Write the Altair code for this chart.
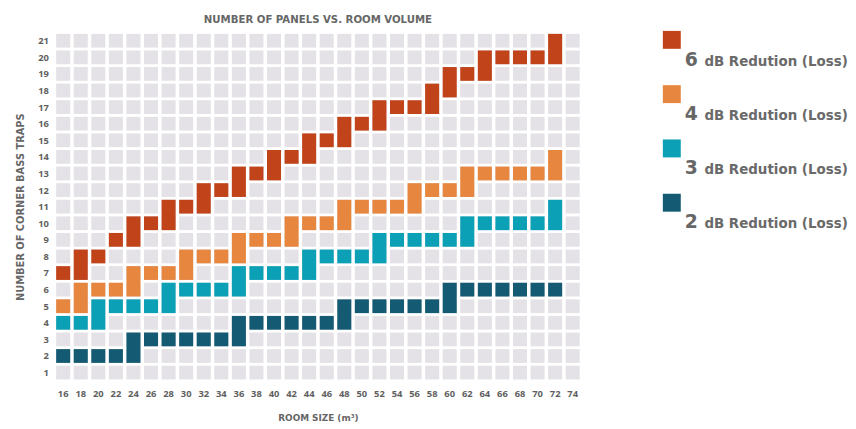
import altair as alt
import pandas as pd

sizes = [16, 18, 20, 22, 24, 26, 28, 30, 32, 34, 36, 38, 40, 42, 44, 46, 48, 50,
         52, 54, 56, 58, 60, 62, 64, 66, 68, 70, 72, 74]
rows = list(range(1, 22))

# low / high row of each coloured cell block (None = no block)
db6_lo = [7, 7, 8, 9, 9, 10, 10, 11, 11, 12, 12, 13, 13, 14, 14, 15, 15, 16, 16, 17, 17, 17, 18, 19, 19, 20, 20, 20, 20, None]
db6_hi = [7, 8, 8, 9, 10, 10, 11, 11, 12, 12, 13, 13, 14, 14, 15, 15, 16, 16, 17, 17, 17, 18, 19, 19, 20, 20, 20, 20, 21, None]
db4_lo = [5, 5, 6, 6, 6, 7, 7, 7, 8, 8, 8, 9, 9, 9, 10, 10, 10, 11, 11, 11, 11, 12, 12, 12, 13, 13, 13, 13, 13, None]
db4_hi = [5, 6, 6, 6, 7, 7, 7, 8, 8, 8, 9, 9, 9, 10, 10, 10, 11, 11, 11, 11, 12, 12, 12, 13, 13, 13, 13, 13, 14, None]
db3_lo = [4, 4, 4, 5, 5, 5, 5, 6, 6, 6, 6, 7, 7, 7, 7, 8, 8, 8, 8, 9, 9, 9, 9, 9, 10, 10, 10, 10, 10, None]
db3_hi = [4, 4, 5, 5, 5, 5, 6, 6, 6, 6, 7, 7, 7, 7, 8, 8, 8, 8, 9, 9, 9, 9, 9, 10, 10, 10, 10, 10, 11, None]
db2_lo = [2, 2, 2, 2, 2, 3, 3, 3, 3, 3, 3, 4, 4, 4, 4, 4, 4, 5, 5, 5, 5, 5, 5, 6, 6, 6, 6, 6, 6, None]
db2_hi = [2, 2, 2, 2, 3, 3, 3, 3, 3, 3, 4, 4, 4, 4, 4, 4, 5, 5, 5, 5, 5, 5, 6, 6, 6, 6, 6, 6, 6, None]

series_names = ["6", "4", "3", "2"]
series_colors = ["#c1431a", "#e6863f", "#0ba0b6", "#145a73"]
legend_suffix = "dB Redution (Loss)"

title_text = "NUMBER OF PANELS VS. ROOM VOLUME"
y_title = "NUMBER OF CORNER BASS TRAPS"
x_title = "ROOM SIZE (m³)"

FONT = "Open Sans"
TFONT = "DejaVu Sans"
TXT = "#5f5f5f"

# background grid cells
grid_df = pd.DataFrame([{"size": s, "row": r} for s in sizes for r in rows])

recs = []
for name, lo, hi in zip(series_names, [db6_lo, db4_lo, db3_lo, db2_lo],
                        [db6_hi, db4_hi, db3_hi, db2_hi]):
    for s, a, b in zip(sizes, lo, hi):
        if a is None:
            continue
        recs.append({"size": s, "series": name, "lo": a, "hi": b})
bars_df = pd.DataFrame(recs)

HALF = 0.415

xaxis = alt.Axis(title=x_title, labelAngle=0, domain=False, ticks=False,
                 labelPadding=8, titlePadding=16, labelFontWeight="bold",
                 labelFontSize=9.5, labelColor=TXT, titleFontSize=9,
                 titleFontWeight="bold", titleColor="#666666", labelFont=FONT,
                 titleFont=TFONT)
yaxis = alt.Axis(title=y_title, values=rows, grid=False, domain=False,
                 ticks=False, labelPadding=6, titlePadding=12,
                 labelOverlap=False, labelFontWeight="bold", labelFontSize=9.5,
                 labelColor=TXT, titleFontSize=10, titleFontWeight="bold",
                 titleColor="#666666", labelFont=FONT, titleFont=TFONT, format="d")
xscale = alt.Scale(domain=sizes, paddingInner=0.2, paddingOuter=0.1)
yscale = alt.Scale(domain=[0.5, 21.5], nice=False, zero=False)

grid = alt.Chart(grid_df).transform_calculate(
    y0="datum.row - %f" % HALF, y1="datum.row + %f" % HALF
).mark_rect(color="#e4e2e6").encode(
    x=alt.X("size:O", sort=sizes, scale=xscale, axis=xaxis),
    y=alt.Y("y0:Q", scale=yscale, axis=yaxis),
    y2="y1:Q",
)

bars = alt.Chart(bars_df).transform_calculate(
    y0="datum.lo - %f" % HALF, y1="datum.hi + %f" % HALF
).mark_rect().encode(
    x=alt.X("size:O", sort=sizes, scale=xscale, axis=xaxis),
    y=alt.Y("y0:Q", scale=yscale, axis=yaxis),
    y2="y1:Q",
    color=alt.Color("series:N", scale=alt.Scale(domain=series_names, range=series_colors),
                    legend=None),
)

main = alt.layer(grid, bars).properties(
    width=534, height=353,
    title=alt.TitleParams(title_text, fontSize=10.3, fontWeight="bold", color="#666666",
                          font=TFONT, offset=7, anchor="middle"),
)

leg_df = pd.DataFrame({"series": series_names, "suffix": [legend_suffix] * 4})
yleg = alt.Y("series:N", sort=series_names, axis=None,
             scale=alt.Scale(domain=series_names, paddingInner=0, paddingOuter=0))
cleg = alt.Color("series:N", scale=alt.Scale(domain=series_names, range=series_colors),
                 legend=None)

leg_sq = alt.Chart(leg_df).mark_square(size=330, opacity=1, yOffset=-20).encode(
    x=alt.value(14.5), y=yleg, color=cleg)
leg_num = alt.Chart(leg_df).mark_text(align="left", baseline="alphabetic", fontSize=19,
                                      fontWeight="bold", font=TFONT, color="#666666",
                                      yOffset=6).encode(
    x=alt.value(27.5), y=yleg, text="series:N")
leg_txt = alt.Chart(leg_df).mark_text(align="left", baseline="alphabetic", fontSize=13.6,
                                      fontWeight="bold", font=TFONT, color="#6a6a6a",
                                      yOffset=6).encode(
    x=alt.value(47.5), y=yleg, text="suffix:N")

legend = alt.layer(leg_sq, leg_num, leg_txt).properties(width=190, height=220)

chart = alt.hconcat(main, legend, spacing=77).configure(
    padding={"left": 8, "top": 4, "right": 0, "bottom": 5}
).configure_view(stroke=None).configure_axis(labelOverlap=False)

chart.save("out.html", embed_options={"renderer": "svg", "actions": False})
